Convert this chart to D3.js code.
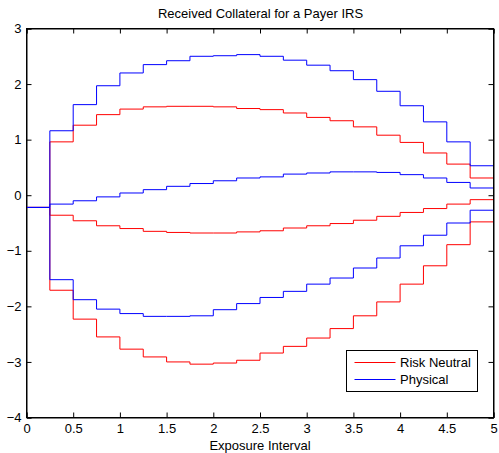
<!DOCTYPE html>
<html>
<head>
<meta charset="utf-8">
<script src="https://cdn.jsdelivr.net/npm/d3@7/dist/d3.min.js"></script>
<style>
  body { margin: 0; background: #fff; }
  svg { display: block; font-family: "Liberation Sans", Arial, sans-serif; }
</style>
</head>
<body>
<svg id="chart"></svg>
<script>
// start of each exposure interval (steps end at 5)
var intervalStart = [0, 0.25, 0.5, 0.75, 1, 1.25, 1.5, 1.75, 2, 2.25, 2.5, 2.75, 3, 3.25, 3.5, 3.75, 4, 4.25, 4.5, 4.75];
var xEnd = 5;

var riskUpper = [-0.22, 0.96, 1.26, 1.45, 1.55, 1.59, 1.6, 1.6, 1.59, 1.56, 1.54, 1.48, 1.4, 1.34, 1.23, 1.08, 0.95, 0.76, 0.56, 0.31];
var riskMid   = [-0.22, -0.36, -0.46, -0.55, -0.6, -0.65, -0.67, -0.68, -0.68, -0.66, -0.64, -0.59, -0.55, -0.51, -0.45, -0.38, -0.31, -0.24, -0.16, -0.08];
var riskLower = [-0.22, -1.71, -2.23, -2.55, -2.77, -2.91, -3.0, -3.04, -3.02, -2.97, -2.84, -2.72, -2.57, -2.4, -2.17, -1.92, -1.6, -1.27, -0.89, -0.48];

var physUpper = [-0.22, 1.16, 1.63, 1.97, 2.2, 2.35, 2.42, 2.5, 2.51, 2.53, 2.5, 2.43, 2.34, 2.24, 2.08, 1.87, 1.61, 1.32, 0.96, 0.53];
var physMid   = [-0.22, -0.16, -0.1, -0.03, 0.04, 0.1, 0.16, 0.21, 0.26, 0.31, 0.33, 0.38, 0.4, 0.42, 0.42, 0.41, 0.37, 0.31, 0.23, 0.13];
var physLower = [-0.22, -1.52, -1.88, -2.05, -2.13, -2.18, -2.18, -2.17, -2.06, -1.95, -1.84, -1.73, -1.6, -1.49, -1.31, -1.13, -0.91, -0.72, -0.5, -0.27];

var xTicks = [0, 0.5, 1, 1.5, 2, 2.5, 3, 3.5, 4, 4.5, 5];
var yTicks = [-4, -3, -2, -1, 0, 1, 2, 3];
var seriesNames = ["Risk Neutral", "Physical"];
var seriesColors = ["#ff0000", "#0000ff"];

var width = 499, height = 453;
var margin = { top: 28.5, right: 5.5, bottom: 35.5, left: 26.5 };
var innerW = width - margin.left - margin.right;
var innerH = height - margin.top - margin.bottom;

var svg = d3.select("#chart").attr("width", width).attr("height", height);
var g = svg.append("g").attr("transform", "translate(" + margin.left + "," + margin.top + ")");

var x = d3.scaleLinear().domain([0, 5]).range([0, innerW]);
var y = d3.scaleLinear().domain([-4, 3]).range([innerH, 0]);

var fmt = function(d) { return d < 0 ? "\u2212" + Math.abs(d) : String(d); };

// axes with inward ticks on all four sides
g.append("g").attr("transform", "translate(0," + innerH + ")")
  .call(d3.axisBottom(x).tickValues(xTicks).tickSize(-5).tickPadding(6).tickFormat(fmt));
g.append("g")
  .call(d3.axisTop(x).tickValues(xTicks).tickSize(-5).tickFormat(""));
g.append("g")
  .call(d3.axisLeft(y).tickValues(yTicks).tickSize(-5).tickPadding(5).tickFormat(fmt));
g.append("g").attr("transform", "translate(" + innerW + ",0)")
  .call(d3.axisRight(y).tickValues(yTicks).tickSize(-5).tickFormat(""));

g.selectAll(".domain").attr("stroke", "#000").attr("stroke-width", 1);
g.selectAll(".tick line").attr("stroke", "#000");
g.selectAll(".tick text").attr("font-size", 13).attr("fill", "#000")
  .attr("font-family", "Liberation Sans, Arial, sans-serif");

var line = d3.line()
  .x(function(d) { return x(d[0]); })
  .y(function(d) { return y(d[1]); })
  .curve(d3.curveStepAfter);

function steps(vals) {
  var pts = intervalStart.map(function(s, i) { return [s, vals[i]]; });
  pts.push([xEnd, vals[vals.length - 1]]);
  return pts;
}

var groups = [
  { color: seriesColors[0], data: [riskUpper, riskMid, riskLower] },
  { color: seriesColors[1], data: [physUpper, physMid, physLower] }
];

groups.forEach(function(grp) {
  g.selectAll(null)
    .data(grp.data)
    .enter()
    .append("path")
    .attr("d", function(d) { return line(steps(d)); })
    .attr("fill", "none")
    .attr("stroke", grp.color)
    .attr("stroke-width", 1);
});

// redraw frame on top
g.append("rect").attr("x", 0).attr("y", 0).attr("width", innerW).attr("height", innerH)
  .attr("fill", "none").attr("stroke", "#000");

// legend
var lg = svg.append("g").attr("transform", "translate(346.5,350.5)");
lg.append("rect").attr("width", 131).attr("height", 41)
  .attr("fill", "#fff").attr("stroke", "#000");
seriesNames.forEach(function(name, i) {
  var yy = 12 + i * 17;
  lg.append("line").attr("x1", 8).attr("x2", 49).attr("y1", yy).attr("y2", yy)
    .attr("stroke", seriesColors[i]);
  lg.append("text").attr("x", 53.5).attr("y", yy + 4.5)
    .attr("font-size", 13).text(name);
});

// title and x label
svg.append("text").attr("x", 260.5).attr("y", 17.5).attr("text-anchor", "middle")
  .attr("font-size", 13).text("Received Collateral for a Payer IRS");
svg.append("text").attr("x", 260).attr("y", 450).attr("text-anchor", "middle")
  .attr("font-size", 13).text("Exposure Interval");
</script>
</body>
</html>
